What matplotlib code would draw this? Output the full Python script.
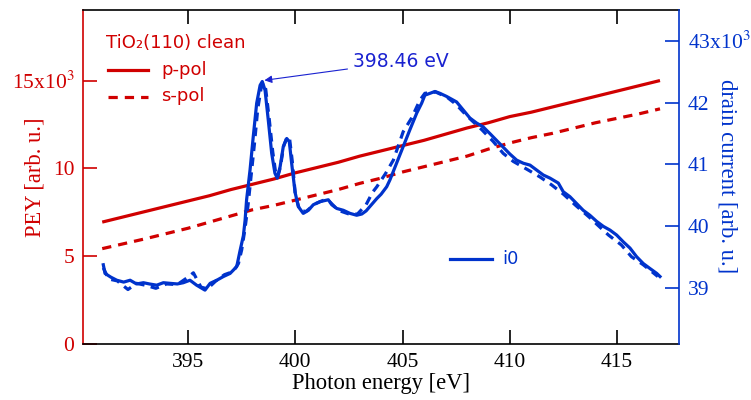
import matplotlib
matplotlib.use("Agg")
import matplotlib.pyplot as plt
from matplotlib.ticker import FixedLocator, FuncFormatter

# ---------------- data ----------------
pol_energy = [391, 392, 393, 394, 395, 396, 397, 398, 399, 400, 401, 402, 403,
              404, 405, 406, 407, 408, 409, 410, 411, 412, 413, 414, 415, 416, 417]
pey_p = [6.95, 7.25, 7.55, 7.85, 8.15, 8.45, 8.8, 9.1, 9.4, 9.75, 10.05, 10.35, 10.7,
         11.0, 11.3, 11.6, 11.95, 12.3, 12.6, 12.95, 13.2, 13.5, 13.8, 14.1, 14.4, 14.7, 15.0]
pey_s = [5.44, 5.72, 6.0, 6.3, 6.6, 6.95, 7.3, 7.65, 7.9, 8.2, 8.5, 8.8, 9.15,
         9.45, 9.8, 10.1, 10.4, 10.7, 11.1, 11.45, 11.75, 12.0, 12.3, 12.6, 12.85, 13.1, 13.39]

i0_p_energy = [391.05, 391.13, 391.4, 391.68, 392.0, 392.3, 392.6, 392.92, 393.2, 393.54,
               393.85, 394.16, 394.5, 394.78, 395.09, 395.4, 395.79, 396.03, 396.34, 396.65,
               396.96, 397.27, 397.42, 397.58, 397.66, 397.73, 397.89, 398.04, 398.2, 398.36,
               398.46, 398.59, 398.74, 398.9, 399.05, 399.16, 399.29, 399.44, 399.6, 399.72,
               399.83, 399.99, 400.14, 400.37, 400.61, 400.84, 401.15, 401.54, 401.7, 401.93,
               402.24, 402.55, 402.86, 403.1, 403.3, 403.5, 403.8, 404.0, 404.26, 404.41,
               404.72, 405.03, 405.34, 405.66, 405.89, 406.04, 406.28, 406.51, 406.74, 407.05,
               407.52, 407.83, 408.14, 408.45, 408.75, 409.07, 409.38, 409.69, 410.0, 410.32,
               410.63, 410.94, 411.25, 411.56, 411.87, 412.26, 412.49, 412.8, 413.11, 413.42,
               413.73, 414.05, 414.36, 414.67, 414.98, 415.29, 415.6, 415.91, 416.22, 416.53,
               416.85, 417.0]
i0_p = [39.38, 39.24, 39.18, 39.13, 39.10, 39.13, 39.07, 39.09, 39.07, 39.05,
        39.09, 39.08, 39.07, 39.09, 39.13, 39.05, 38.97, 39.08, 39.13, 39.19,
        39.24, 39.35, 39.6, 39.85, 40.1, 40.43, 40.91, 41.45, 41.99, 42.28,
        42.34, 42.2, 41.72, 41.18, 40.86, 40.78, 40.96, 41.29, 41.42, 41.37,
        41.02, 40.55, 40.32, 40.21, 40.26, 40.35, 40.40, 40.43, 40.35, 40.29,
        40.26, 40.21, 40.18, 40.2, 40.25, 40.33, 40.45, 40.52, 40.64, 40.75,
        41.02, 41.29, 41.56, 41.83, 41.99, 42.12, 42.15, 42.18, 42.15, 42.1,
        42.01, 41.88, 41.75, 41.67, 41.61, 41.5, 41.39, 41.28, 41.17, 41.07,
        41.02, 40.99, 40.91, 40.83, 40.78, 40.70, 40.56, 40.48, 40.37, 40.26,
        40.18, 40.08, 40.0, 39.94, 39.86, 39.75, 39.65, 39.51, 39.40, 39.32,
        39.24, 39.19]

i0_s_energy = [391.05, 391.3, 391.7, 392.2, 392.6, 393.0, 393.5, 394.0, 394.5, 395.0,
               395.25, 395.6, 395.9, 396.3, 396.7, 397.1, 397.35, 397.5, 397.65, 397.8,
               397.95, 398.1, 398.25, 398.4, 398.5, 398.62, 398.78, 398.95, 399.08, 399.18,
               399.3, 399.46, 399.62, 399.74, 399.86, 400.0, 400.2, 400.5, 400.9, 401.3,
               401.6, 402.0, 402.5, 402.9, 403.3, 403.6, 403.8, 404.2, 404.57, 405.03,
               405.42, 405.81, 406.04, 406.3, 406.55, 406.8, 407.1, 407.5, 407.85, 408.2,
               408.7, 409.23, 409.69, 410.16, 410.86, 411.4, 411.95, 412.5, 413.1, 413.7,
               414.1, 414.6, 415.2, 415.67, 416.22, 416.9]
i0_s = [39.33, 39.15, 39.12, 38.98, 39.08, 39.05, 39.0, 39.07, 39.06, 39.18,
        39.25, 39.02, 38.99, 39.12, 39.22, 39.27, 39.4, 39.62, 39.95, 40.35,
        40.85, 41.35, 41.9, 42.22, 42.32, 42.22, 41.75, 41.2, 40.88, 40.8,
        40.95, 41.3, 41.45, 41.4, 41.05, 40.52, 40.26, 40.24, 40.36, 40.42,
        40.4, 40.26, 40.2, 40.2, 40.35, 40.55, 40.64, 40.85, 41.07, 41.53,
        41.75, 42.04, 42.15, 42.16, 42.17, 42.13, 42.08, 41.97, 41.84, 41.72,
        41.56, 41.37, 41.18, 41.05, 40.91, 40.80, 40.67, 40.52, 40.33, 40.15,
        40.02, 39.86, 39.70, 39.51, 39.38, 39.19]

x_ticks = [395, 400, 405, 410, 415]
left_ticks = [0, 5, 10, 15]
right_ticks = [39, 40, 41, 42, 43]
peak_energy = 398.46
peak_value = 42.36
peak_label = "398.46 eV"

# ---------------- style ----------------
RED = "#d00000"
BLUE = "#0033cc"
TEXTBLUE = "#1a22d0"
plt.rcParams["mathtext.fontset"] = "stix"
SERIF = ["Liberation Serif", "DejaVu Serif"]
SANS = ["DejaVu Sans"]

W, H = 751, 400
fig = plt.figure(figsize=(W / 100, H / 100), dpi=100)
L, R, T, B = 82.7, 679.3, 9.5, 344.3
ax = fig.add_axes([L / W, 1 - B / H, (R - L) / W, (B - T) / H])
ax2 = ax.twinx()

lw = 2.3
ax.plot(pol_energy, pey_p, color=RED, lw=lw, solid_capstyle="butt")
ax.plot(pol_energy, pey_s, color=RED, lw=lw, dashes=(2.9, 2.2))
ax2.plot(i0_s_energy, i0_s, color=BLUE, lw=lw, dashes=(2.7, 2.0))
ax2.plot(i0_p_energy, i0_p, color=BLUE, lw=lw)

ax.set_xlim(390.09, 417.9)
ax.set_ylim(0, 19.04)
ax2.set_ylim(38.095, 43.504)

# spines
for sp in ax.spines.values():
    sp.set_linewidth(1.2)
ax.spines["left"].set_color(RED)
ax.spines["right"].set_visible(False)
for k in ("left", "top", "bottom"):
    ax2.spines[k].set_visible(False)
ax2.spines["right"].set_color(BLUE)
ax2.spines["right"].set_linewidth(1.2)

# ticks
ax.xaxis.set_major_locator(FixedLocator(x_ticks))
ax.yaxis.set_major_locator(FixedLocator(left_ticks))
ax2.yaxis.set_major_locator(FixedLocator(right_ticks))
ax.tick_params(axis="x", direction="in", length=10, width=1.2, top=True,
               labelsize=15.5, pad=6, colors="black")
ax.tick_params(axis="y", direction="in", length=10, width=1.2, labelsize=15.5,
               pad=6, colors=RED)
ax2.tick_params(axis="y", direction="in", length=10, width=1.2, labelsize=15.5,
                pad=6, colors=BLUE)

def lfmt(v, pos):
    if v == max(left_ticks):
        return r"%dx10$^{3}$" % v
    return "%d" % v

def rfmt(v, pos):
    if v == max(right_ticks):
        return r"%dx10$^{3}$" % v
    return "%d" % v

ax.yaxis.set_major_formatter(FuncFormatter(lfmt))
ax2.yaxis.set_major_formatter(FuncFormatter(rfmt))
for lab in ax.get_xticklabels() + ax.get_yticklabels() + ax2.get_yticklabels():
    lab.set_fontfamily(SERIF)

def px(x, y):
    return x / W, 1 - y / H

fig.text(*px(381, 383), "Photon energy [eV]", fontsize=16.3, family=SERIF,
         ha="center", va="center", color="black")
fig.text(*px(35, 177), "PEY [arb. u.]", fontsize=16.3, family=SERIF,
         ha="center", va="center", color=RED, rotation=90)
fig.text(*px(727, 176), "drain current [arb. u.]", fontsize=16.3, family=SERIF,
         ha="center", va="center", color=BLUE, rotation=-90)

# legends (manual)
fig.text(*px(106, 43), "TiO\u2082(110) clean", color=RED, fontsize=13,
         family=SANS, va="center", ha="left")
fig.add_artist(plt.Line2D([108 / W, 148 / W], [1 - 70 / H] * 2, color=RED, lw=lw))
fig.text(*px(161, 70), "p-pol", color=RED, fontsize=13, family=SANS,
         va="center", ha="left")
fig.add_artist(plt.Line2D([108 / W, 148 / W], [1 - 97 / H] * 2, color=RED, lw=lw,
                          dashes=(2.9, 2.2)))
fig.text(*px(161, 96), "s-pol", color=RED, fontsize=13, family=SANS,
         va="center", ha="left")
fig.add_artist(plt.Line2D([450 / W, 492 / W], [1 - 259.3 / H] * 2, color=BLUE, lw=lw))
fig.text(*px(502, 259), "i0", color=BLUE, fontsize=13, family=SANS,
         va="center", ha="left")

ax2.annotate(peak_label, xy=(peak_energy + 0.1, peak_value),
             xytext=(402.69, 42.66), textcoords="data",
             color=TEXTBLUE, fontsize=13.5, family=SANS, va="center", ha="left",
             arrowprops=dict(arrowstyle="-|>", color=TEXTBLUE, lw=0.8,
                             mutation_scale=11, shrinkA=2, shrinkB=0))

fig.savefig("out.png", dpi=100)
